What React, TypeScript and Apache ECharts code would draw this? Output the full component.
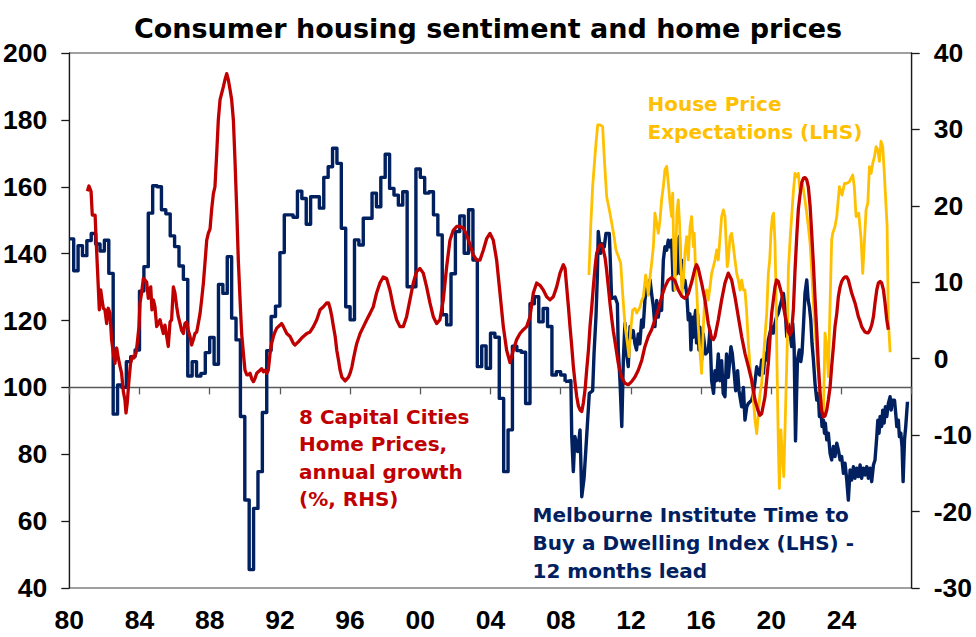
import React, { useEffect, useRef } from 'react'
import * as echarts from 'echarts'

const chartTitle = 'Consumer housing sentiment and home prices'

// Melbourne Institute time to buy a dwelling index (LHS), 12 months lead
// quarterly readings from 1980 Q1 to 2008 Q2
const mitbFirstYear = 1980
const mitbQuarterly = [
  144.4, 134.9, 142.4, 139.4, // 1980
  143.9, 146.0, 142.9, 140.8,
  144.0, 134.1, 92.0, 100.7,
  100.0, 107.7, 109.2, 111.2,
  128.8, 136.1, 152.1, 160.3, // 1984
  160.0, 153.1, 151.9, 145.3,
  142.1, 136.3, 132.3, 103.4,
  107.7, 103.4, 104.2, 110.4,
  114.9, 106.9, 130.8, 128.1, // 1988
  139.1, 120.7, 114.2, 91.3,
  66.3, 45.5, 63.8, 74.8,
  92.5, 111.0, 121.2, 124.3,
  140.3, 151.6, 151.6, 150.9, // 1992
  158.7, 156.5, 148.8, 157.0,
  157.0, 153.6, 162.8, 166.0,
  171.5, 167.0, 147.6, 124.1,
  120.2, 144.1, 142.6, 150.6, // 1996
  150.6, 158.1, 154.0, 162.8,
  169.7, 159.5, 157.5, 154.5,
  158.5, 130.1, 130.1, 165.3,
  162.8, 158.1, 158.5, 151.6, // 2000
  145.6, 121.7, 118.7, 134.0,
  146.6, 151.3, 140.1, 153.1,
  138.1, 106.2, 112.4, 105.7,
  116.2, 115.0, 96.7, 74.8, // 2004
  87.3, 112.3, 111.0, 110.5,
  95.2, 125.0, 127.1, 119.6,
  123.6, 118.2, 103.7, 104.7,
  103.7, 101.7, // 2008
]

// monthly readings afterwards: [year, index]
const mitbMonthly: [number, number][] = [
  [2008.25, 101.7], [2008.58, 102.0], [2008.63, 85.3], [2008.72, 74.8], [2008.81, 85.3], [2008.97, 80.8],
  [2009.1, 87.3], [2009.2, 67.3], [2009.33, 72.8], [2009.44, 82.0], [2009.63, 98.2], [2009.82, 99.0],
  [2009.9, 110.2], [2010.01, 121.2], [2010.09, 133.6], [2010.14, 146.6], [2010.28, 140.1], [2010.34, 143.0],
  [2010.48, 142.0], [2010.58, 146.0], [2010.77, 146.0], [2010.85, 134.4], [2010.9, 126.6], [2011.1, 127.0],
  [2011.23, 125.0], [2011.28, 111.2], [2011.38, 101.7], [2011.48, 88.3], [2011.57, 108.2], [2011.66, 119.2],
  [2011.76, 110.0], [2011.85, 106.2], [2011.95, 118.2], [2012.04, 115.0], [2012.13, 117.0], [2012.23, 113.0],
  [2012.32, 111.2], [2012.42, 116.0], [2012.51, 113.0], [2012.61, 120.2], [2012.7, 118.0], [2012.8, 126.1],
  [2012.9, 130.1], [2012.99, 128.0], [2013.09, 132.1], [2013.18, 128.0], [2013.28, 124.1], [2013.37, 118.2],
  [2013.47, 126.0], [2013.56, 121.0], [2013.66, 125.0], [2013.75, 123.0], [2013.85, 138.1], [2013.94, 142.1],
  [2014.04, 141.0], [2014.13, 144.0], [2014.23, 142.0], [2014.32, 144.0], [2014.42, 129.1], [2014.51, 144.0],
  [2014.55, 137.0], [2014.61, 134.0], [2014.7, 144.1], [2014.76, 145.1], [2014.81, 134.0], [2014.89, 138.0],
  [2014.99, 130.0], [2015.08, 132.0], [2015.18, 128.1], [2015.27, 120.2], [2015.36, 122.0], [2015.42, 111.2],
  [2015.5, 121.0], [2015.55, 115.0], [2015.61, 120.0], [2015.69, 123.0], [2015.74, 113.3], [2015.8, 122.0],
  [2015.88, 111.2], [2015.93, 118.0], [2016.03, 108.2], [2016.12, 116.0], [2016.26, 110.0], [2016.41, 111.0],
  [2016.5, 117.0], [2016.6, 102.0], [2016.71, 98.2], [2016.79, 105.0], [2016.88, 102.0], [2016.98, 110.0],
  [2017.07, 102.0], [2017.17, 108.0], [2017.26, 98.2], [2017.36, 97.2], [2017.45, 110.0], [2017.55, 103.0],
  [2017.7, 112.2], [2017.78, 110.0], [2017.89, 104.0], [2017.97, 99.0], [2018.08, 105.0], [2018.16, 99.0],
  [2018.31, 94.2], [2018.41, 100.0], [2018.5, 90.2], [2018.6, 94.2], [2018.69, 95.2], [2018.88, 96.2],
  [2018.98, 98.2], [2019.07, 101.7], [2019.17, 106.2], [2019.26, 104.2], [2019.35, 103.7], [2019.45, 108.2],
  [2019.55, 104.2], [2019.64, 110.2], [2019.74, 108.2], [2019.83, 114.2], [2019.92, 116.2], [2020.02, 118.2],
  [2020.11, 116.2], [2020.21, 119.2], [2020.3, 121.1], [2020.4, 122.2], [2020.49, 124.1], [2020.59, 126.1],
  [2020.69, 128.1], [2020.79, 123.0], [2020.88, 115.2], [2020.97, 119.0], [2021.07, 116.2], [2021.16, 112.2],
  [2021.22, 119.2], [2021.3, 112.2], [2021.38, 84.0], [2021.45, 100.0], [2021.49, 108.2], [2021.6, 111.2],
  [2021.68, 107.7], [2021.75, 110.2], [2021.83, 118.2], [2021.92, 128.1], [2022.02, 132.1], [2022.1, 126.1],
  [2022.17, 124.1], [2022.25, 120.2], [2022.32, 113.2], [2022.4, 108.2], [2022.49, 101.2], [2022.59, 96.2],
  [2022.68, 98.2], [2022.74, 91.3], [2022.82, 94.2], [2022.89, 88.3], [2022.97, 90.2], [2023.03, 86.3],
  [2023.08, 89.3], [2023.16, 84.3], [2023.25, 86.3], [2023.35, 80.3], [2023.44, 78.3], [2023.54, 82.3],
  [2023.63, 79.3], [2023.73, 83.3], [2023.82, 81.3], [2023.92, 78.3], [2024.01, 79.3], [2024.11, 74.3],
  [2024.2, 77.3], [2024.3, 72.3], [2024.39, 66.3], [2024.49, 75.3], [2024.58, 72.3], [2024.68, 76.3],
  [2024.77, 72.8], [2024.87, 75.8], [2024.96, 73.3], [2025.06, 76.8], [2025.15, 72.8], [2025.25, 75.8],
  [2025.34, 73.8], [2025.44, 76.3], [2025.53, 72.8], [2025.63, 75.8], [2025.72, 71.8], [2025.82, 76.8],
  [2025.91, 78.3], [2026.01, 85.3], [2026.07, 90.2], [2026.14, 86.3], [2026.2, 91.3], [2026.29, 88.3],
  [2026.35, 93.2], [2026.43, 89.3], [2026.5, 94.2], [2026.58, 91.3], [2026.67, 95.2], [2026.77, 97.2],
  [2026.83, 93.2], [2026.9, 96.2], [2027.02, 96.2], [2027.09, 92.2], [2027.15, 88.3], [2027.24, 90.2],
  [2027.3, 85.3], [2027.38, 86.3], [2027.45, 82.3], [2027.51, 71.8], [2027.59, 84.3], [2027.66, 88.3],
  [2027.76, 95.7],
]

// House price expectations (LHS): [year, index]
const priceExpectations: [number, number][] = [
  [2009.61, 133.6], [2009.71, 148.1], [2009.82, 160.0], [2009.92, 167.0], [2010.01, 173.0], [2010.11, 178.5],
  [2010.24, 178.5], [2010.39, 178.0], [2010.49, 168.0], [2010.62, 157.0], [2010.77, 153.1], [2010.91, 149.1],
  [2011.04, 145.1], [2011.15, 141.1], [2011.29, 139.1], [2011.42, 137.1], [2011.53, 128.0], [2011.67, 118.2],
  [2011.8, 113.2], [2011.89, 109.2], [2011.99, 117.2], [2012.1, 123.1], [2012.24, 123.6], [2012.33, 122.2],
  [2012.43, 123.1], [2012.52, 124.1], [2012.62, 126.1], [2012.71, 127.1], [2012.84, 133.6], [2012.92, 131.0],
  [2012.99, 127.5], [2013.09, 133.0], [2013.18, 137.0], [2013.28, 142.1], [2013.37, 152.1], [2013.47, 149.1],
  [2013.56, 146.1], [2013.66, 150.1], [2013.75, 156.1], [2013.85, 160.1], [2013.94, 165.1], [2014.04, 166.1],
  [2014.13, 161.1], [2014.23, 155.1], [2014.32, 151.1], [2014.38, 158.1], [2014.43, 144.1], [2014.51, 129.1],
  [2014.57, 142.1], [2014.62, 152.1], [2014.7, 156.1], [2014.78, 148.1], [2014.83, 138.1], [2014.91, 128.1],
  [2014.99, 132.1], [2015.08, 140.1], [2015.18, 145.1], [2015.27, 138.1], [2015.37, 148.1], [2015.46, 151.1],
  [2015.56, 142.1], [2015.61, 146.1], [2015.69, 134.1], [2015.76, 128.1], [2015.84, 118.2], [2015.94, 110.2],
  [2016.03, 104.2], [2016.13, 118.2], [2016.22, 128.1], [2016.32, 129.1], [2016.41, 126.1], [2016.51, 130.1],
  [2016.6, 134.1], [2016.7, 136.1], [2016.79, 138.1], [2016.89, 141.1], [2016.98, 138.1], [2017.08, 145.1],
  [2017.17, 151.1], [2017.27, 153.1], [2017.36, 151.1], [2017.42, 144.1], [2017.49, 136.1], [2017.55, 138.1],
  [2017.65, 145.1], [2017.74, 146.1], [2017.84, 142.1], [2017.93, 138.1], [2018.03, 134.1], [2018.12, 132.1],
  [2018.22, 129.1], [2018.31, 132.1], [2018.41, 129.1], [2018.5, 129.1], [2018.6, 122.2], [2018.69, 113.2],
  [2018.79, 106.2], [2018.88, 102.2], [2018.98, 96.2], [2019.07, 90.2], [2019.17, 86.2], [2019.26, 92.2],
  [2019.36, 98.2], [2019.45, 101.2], [2019.55, 108.2], [2019.64, 115.2], [2019.74, 122.2], [2019.83, 134.1],
  [2019.91, 138.1], [2019.98, 146.1], [2020.06, 151.1], [2020.13, 152.1], [2020.21, 143.1], [2020.27, 128.1],
  [2020.32, 108.2], [2020.4, 83.2], [2020.46, 69.8], [2020.55, 87.3], [2020.62, 80.0], [2020.71, 73.3],
  [2020.84, 99.2], [2020.93, 117.2], [2020.97, 135.0], [2021.07, 144.1], [2021.25, 158.0], [2021.35, 164.0],
  [2021.45, 163.0], [2021.54, 164.0], [2021.63, 159.0], [2021.78, 161.0], [2021.92, 156.0], [2022.02, 152.0],
  [2022.11, 148.1], [2022.21, 143.1], [2022.3, 135.2], [2022.39, 126.1], [2022.49, 118.2], [2022.59, 110.2],
  [2022.68, 104.2], [2022.78, 98.2], [2022.87, 94.2], [2022.97, 92.2], [2023.06, 116.2], [2023.16, 112.2],
  [2023.25, 103.2], [2023.34, 123.1], [2023.44, 144.1], [2023.5, 146.1], [2023.63, 148.1], [2023.73, 151.1],
  [2023.88, 160.0], [2024.03, 157.5], [2024.17, 161.0], [2024.3, 161.0], [2024.45, 161.5], [2024.64, 163.5],
  [2024.73, 160.0], [2024.83, 151.1], [2024.98, 152.1], [2025.12, 144.1], [2025.21, 134.1], [2025.3, 143.1],
  [2025.4, 153.1], [2025.5, 155.1], [2025.59, 166.0], [2025.69, 164.0], [2025.78, 167.0], [2025.88, 169.0],
  [2025.97, 172.0], [2026.07, 171.0], [2026.16, 167.6], [2026.25, 173.6], [2026.35, 172.0], [2026.44, 164.0],
  [2026.54, 154.0], [2026.6, 148.0], [2026.67, 120.0], [2026.77, 110.5],
]

// 8 capital cities home prices, annual growth % (RHS): [year, %]
const homePriceGrowth: [number, number][] = [
  [1981.03, 21.9], [1981.12, 22.6], [1981.24, 21.9], [1981.31, 18.8], [1981.47, 18.8], [1981.52, 16.0],
  [1981.6, 12.0], [1981.71, 6.4], [1981.79, 9.0], [1981.88, 7.5], [1981.94, 6.6], [1982.03, 6.4],
  [1982.13, 4.6], [1982.22, 6.6], [1982.32, 5.9], [1982.41, 2.5], [1982.51, 0.7], [1982.6, -0.6],
  [1982.7, 1.4], [1982.79, 0.1], [1982.89, -1.0], [1982.98, -1.9], [1983.08, -4.3], [1983.17, -5.4],
  [1983.23, -7.1], [1983.3, -5.8], [1983.4, -2.8], [1983.49, -0.6], [1983.59, 0.3], [1983.68, 0.1],
  [1983.8, 0.7], [1983.87, 2.0], [1983.97, 4.2], [1984.03, 7.3], [1984.12, 8.6], [1984.22, 10.5],
  [1984.31, 10.3], [1984.41, 10.0], [1984.5, 7.9], [1984.56, 9.0], [1984.64, 9.4], [1984.71, 6.4],
  [1984.79, 7.7], [1984.88, 6.8], [1984.98, 4.2], [1985.07, 4.6], [1985.17, 5.1], [1985.26, 4.2],
  [1985.36, 3.3], [1985.45, 4.4], [1985.55, 2.9], [1985.64, 1.6], [1985.74, 4.8], [1985.83, 5.1],
  [1985.93, 9.4], [1986.02, 8.6], [1986.12, 6.8], [1986.21, 5.5], [1986.31, 4.6], [1986.4, 3.7],
  [1986.5, 3.3], [1986.59, 4.6], [1986.69, 4.8], [1986.78, 3.7], [1986.88, 2.9], [1986.97, 1.8],
  [1987.07, 2.5], [1987.16, 3.3], [1987.26, 3.5], [1987.35, 4.6], [1987.45, 5.9], [1987.54, 7.7],
  [1987.64, 9.9], [1987.73, 12.5], [1987.83, 15.5], [1987.92, 16.4], [1988.02, 17.0], [1988.11, 19.5],
  [1988.21, 21.6], [1988.3, 22.5], [1988.4, 26.9], [1988.49, 31.2], [1988.59, 33.9], [1988.68, 34.7],
  [1988.78, 35.6], [1988.87, 36.5], [1988.97, 37.3], [1989.06, 36.5], [1989.16, 35.2], [1989.25, 33.9],
  [1989.35, 31.2], [1989.44, 26.0], [1989.54, 19.5], [1989.63, 12.9], [1989.73, 7.7], [1989.82, 3.3],
  [1989.92, 0.7], [1990.01, -1.5], [1990.11, -2.1], [1990.2, -2.1], [1990.3, -1.9], [1990.39, -2.6],
  [1990.49, -3.0], [1990.58, -2.6], [1990.68, -1.9], [1990.77, -1.7], [1990.87, -1.5], [1990.96, -1.3],
  [1991.06, -1.7], [1991.15, -1.5], [1991.25, -1.9], [1991.34, -1.5], [1991.44, 0.7], [1991.53, 2.0],
  [1991.63, 2.9], [1991.72, 3.5], [1991.82, 4.0], [1992.01, 4.4], [1992.1, 4.6], [1992.2, 4.2],
  [1992.39, 3.3], [1992.58, 2.9], [1992.77, 2.0], [1992.86, 1.8], [1993.05, 2.2], [1993.24, 2.7],
  [1993.53, 3.3], [1993.72, 3.5], [1993.91, 4.2], [1994.1, 5.1], [1994.29, 6.4], [1994.48, 6.8],
  [1994.67, 7.3], [1994.77, 7.3], [1994.86, 6.6], [1994.96, 5.5], [1995.05, 4.2], [1995.15, 2.9],
  [1995.24, 1.1], [1995.34, -0.2], [1995.43, -1.5], [1995.53, -2.4], [1995.72, -2.9], [1995.91, -2.4],
  [1996.0, -1.9], [1996.1, -1.1], [1996.19, 0.0], [1996.29, 1.1], [1996.38, 2.0], [1996.57, 3.3],
  [1996.76, 4.2], [1996.95, 5.1], [1997.13, 5.9], [1997.32, 6.8], [1997.51, 8.6], [1997.7, 9.9],
  [1997.89, 10.7], [1998.08, 10.5], [1998.27, 9.0], [1998.46, 6.8], [1998.65, 5.1], [1998.84, 4.2],
  [1999.03, 4.2], [1999.22, 5.5], [1999.41, 7.7], [1999.6, 9.9], [1999.79, 11.4], [1999.98, 11.8],
  [2000.17, 11.2], [2000.36, 9.4], [2000.55, 7.3], [2000.74, 5.5], [2000.93, 4.6], [2001.12, 5.1],
  [2001.31, 7.7], [2001.5, 12.0], [2001.69, 15.5], [2001.88, 16.8], [2002.07, 17.3], [2002.26, 17.3],
  [2002.45, 17.1], [2002.64, 16.2], [2002.83, 14.9], [2003.02, 13.6], [2003.21, 12.9], [2003.4, 12.9],
  [2003.59, 14.2], [2003.78, 15.7], [2003.97, 16.4], [2004.16, 15.5], [2004.35, 12.9], [2004.54, 8.6],
  [2004.73, 4.2], [2004.92, 1.1], [2005.11, -0.5], [2005.3, 1.1], [2005.49, 2.5], [2005.68, 3.3],
  [2005.87, 3.8], [2006.06, 4.2], [2006.25, 5.5], [2006.44, 8.6], [2006.63, 9.9], [2006.82, 9.6],
  [2007.01, 9.0], [2007.2, 8.1], [2007.39, 7.7], [2007.58, 8.1], [2007.77, 9.4], [2007.96, 11.2],
  [2008.15, 12.3], [2008.25, 11.8], [2008.34, 9.4], [2008.44, 6.8], [2008.53, 4.2], [2008.63, 1.6],
  [2008.72, -1.0], [2008.82, -3.2], [2008.91, -4.9], [2009.01, -6.2], [2009.1, -6.7], [2009.2, -6.9],
  [2009.29, -5.8], [2009.39, -4.0], [2009.48, -1.5], [2009.58, 1.1], [2009.67, 4.2], [2009.77, 6.8],
  [2009.86, 9.4], [2009.96, 12.0], [2010.05, 13.8], [2010.15, 14.5], [2010.24, 14.9], [2010.34, 14.9],
  [2010.43, 14.2], [2010.53, 13.2], [2010.62, 11.5], [2010.71, 9.5], [2010.81, 7.2], [2010.91, 5.2],
  [2011.0, 3.6], [2011.09, 2.3], [2011.28, -0.6], [2011.47, -2.4], [2011.66, -3.2], [2011.85, -3.4],
  [2012.04, -3.0], [2012.23, -2.4], [2012.42, -1.5], [2012.62, -0.2], [2012.8, 1.6], [2012.99, 2.9],
  [2013.18, 3.8], [2013.37, 5.1], [2013.56, 6.4], [2013.75, 8.1], [2013.94, 9.4], [2014.13, 10.3],
  [2014.32, 10.6], [2014.51, 10.2], [2014.7, 9.0], [2014.89, 8.2], [2015.08, 7.9], [2015.27, 8.5],
  [2015.46, 10.0], [2015.65, 11.8], [2015.74, 12.3], [2015.84, 11.8], [2016.03, 9.9], [2016.22, 7.7],
  [2016.41, 4.6], [2016.6, 2.7], [2016.7, 2.5], [2016.79, 2.9], [2016.98, 5.1], [2017.17, 7.7],
  [2017.36, 9.9], [2017.55, 11.2], [2017.74, 10.3], [2017.93, 8.1], [2018.12, 5.5], [2018.31, 2.9],
  [2018.5, 0.7], [2018.69, -1.0], [2018.88, -2.8], [2019.07, -5.4], [2019.26, -6.9], [2019.35, -7.4],
  [2019.45, -7.2], [2019.64, -5.0], [2019.83, -0.6], [2020.02, 5.9], [2020.21, 9.4], [2020.3, 10.3],
  [2020.4, 10.1], [2020.59, 8.5], [2020.69, 6.8], [2020.88, 4.6], [2020.97, 3.5], [2021.07, 3.1],
  [2021.16, 3.6], [2021.26, 6.5], [2021.35, 11.5], [2021.45, 16.0], [2021.54, 19.5], [2021.64, 21.5],
  [2021.73, 23.0], [2021.83, 23.6], [2021.92, 23.7], [2022.02, 23.4], [2022.11, 22.5], [2022.21, 20.0],
  [2022.3, 16.5], [2022.4, 12.3], [2022.49, 8.0], [2022.59, 3.6], [2022.68, -0.8], [2022.78, -4.5],
  [2022.87, -6.8], [2022.97, -7.6], [2023.06, -7.5], [2023.16, -6.7], [2023.25, -5.4], [2023.35, -3.7],
  [2023.44, -1.0], [2023.54, 1.6], [2023.63, 4.2], [2023.73, 5.9], [2023.82, 8.1], [2023.92, 9.4],
  [2024.01, 10.1], [2024.11, 10.5], [2024.2, 10.7], [2024.3, 10.7], [2024.39, 10.3], [2024.49, 9.4],
  [2024.58, 8.6], [2024.68, 7.9], [2024.77, 7.3], [2024.87, 6.4], [2024.96, 5.5], [2025.06, 4.9],
  [2025.15, 4.2], [2025.25, 3.8], [2025.34, 3.5], [2025.44, 3.4], [2025.53, 3.4], [2025.63, 3.8],
  [2025.72, 4.4], [2025.82, 5.5], [2025.91, 7.3], [2026.01, 9.0], [2026.1, 9.9], [2026.2, 10.1],
  [2026.29, 9.9], [2026.39, 9.0], [2026.48, 7.3], [2026.58, 5.1], [2026.67, 3.8],
]

// axes
const yearRange = [1980, 2028]
const yearStep = 4
const lhsRange = [40, 200]
const lhsStep = 20
const rhsRange = [-30, 40]
const rhsStep = 10
const lhsBaseline = 100

const NAVY = '#002060'
const RED = '#C00000'
const GOLD = '#FFC000'

const labelFont = {
  fontFamily: 'Liberation Sans, Arial, sans-serif',
  fontWeight: 'bold' as const,
  fontSize: 26.5,
  color: '#000',
}
const noteFont = { fontFamily: 'DejaVu Sans', fontWeight: 'bold' as const, fontSize: 20 }

function yearLabel(v: number) {
  if (v >= yearRange[1]) return ''
  return String(v % 100).padStart(2, '0')
}

function App() {
  const chartRef = useRef<HTMLDivElement>(null)

  useEffect(() => {
    const chart = echarts.init(chartRef.current as HTMLDivElement, undefined, { renderer: 'svg' })

    // hidden helper axis whose zero sits at the LHS baseline, for the x axis line
    const span = lhsRange[1] - lhsRange[0]
    const helperMin = lhsRange[0] - lhsBaseline

    chart.setOption({
      animation: false,
      grid: {
        left: 69.3,
        right: 64.3,
        top: 53,
        bottom: 49,
        show: true,
        borderColor: '#404040',
        borderWidth: 1,
        backgroundColor: 'transparent',
        containLabel: false,
        outerBoundsMode: 'none',
      },
      xAxis: {
        type: 'value',
        min: yearRange[0],
        max: yearRange[1],
        interval: yearStep,
        position: 'bottom',
        axisLine: { show: true, onZero: true, onZeroAxisIndex: 2, lineStyle: { color: '#595959', width: 1.3 } },
        axisTick: { show: true, length: 7, lineStyle: { color: '#595959', width: 1.3 } },
        axisLabel: { ...labelFont, margin: 18, formatter: yearLabel, showMinLabel: true },
        splitLine: { show: false },
      },
      yAxis: [
        {
          type: 'value',
          position: 'left',
          min: lhsRange[0],
          max: lhsRange[1],
          interval: lhsStep,
          axisLine: { show: true, lineStyle: { color: '#1a1a1a', width: 1.3 } },
          axisTick: { show: true, length: 8, lineStyle: { color: '#1a1a1a', width: 1.3 } },
          axisLabel: { ...labelFont, margin: 22, showMinLabel: true, showMaxLabel: true },
          splitLine: { show: false },
        },
        {
          type: 'value',
          position: 'right',
          min: rhsRange[0],
          max: rhsRange[1],
          interval: rhsStep,
          axisLine: { show: true, lineStyle: { color: '#1a1a1a', width: 1.3 } },
          axisTick: { show: true, length: 8, lineStyle: { color: '#1a1a1a', width: 1.3 } },
          axisLabel: { ...labelFont, margin: 22, showMinLabel: true, showMaxLabel: true },
          splitLine: { show: false },
        },
        {
          type: 'value',
          show: false,
          min: helperMin,
          max: helperMin + span,
        },
      ],
      series: [
        {
          name: 'Melbourne Institute Time to Buy a Dwelling Index',
          type: 'line',
          yAxisIndex: 0,
          step: 'end',
          showSymbol: false,
          lineStyle: { color: NAVY, width: 3.4, join: 'round' },
          data: mitbQuarterly.map((v, i) => [mitbFirstYear + i * 0.25, v]),
        },
        {
          name: 'Melbourne Institute Time to Buy a Dwelling Index (monthly)',
          type: 'line',
          yAxisIndex: 0,
          showSymbol: false,
          lineStyle: { color: NAVY, width: 3.4, join: 'round' },
          data: mitbMonthly,
        },
        {
          name: 'House Price Expectations',
          type: 'line',
          yAxisIndex: 0,
          showSymbol: false,
          lineStyle: { color: GOLD, width: 2.8, join: 'round' },
          data: priceExpectations,
        },
        {
          name: '8 Capital Cities Home Prices',
          type: 'line',
          yAxisIndex: 1,
          showSymbol: false,
          lineStyle: { color: RED, width: 3.3, join: 'round' },
          data: homePriceGrowth,
        },
      ],
      graphic: [
        {
          type: 'text',
          x: 488,
          y: 28.5,
          style: {
            text: chartTitle,
            fill: '#000',
            fontFamily: 'DejaVu Sans',
            fontWeight: 'bold',
            fontSize: 27,
            align: 'center',
            verticalAlign: 'middle',
          },
        },
        {
          type: 'text',
          x: 647.5,
          y: 90,
          style: { text: 'House Price\nExpectations (LHS)', fill: GOLD, ...noteFont, lineHeight: 28, verticalAlign: 'top' },
        },
        {
          type: 'text',
          x: 299,
          y: 403,
          style: {
            text: '8 Capital Cities\nHome Prices,\nannual growth\n(%, RHS)',
            fill: RED,
            ...noteFont,
            lineHeight: 27.5,
            verticalAlign: 'top',
          },
        },
        {
          type: 'text',
          x: 532.5,
          y: 501,
          style: {
            text: 'Melbourne Institute Time to\nBuy a Dwelling Index (LHS) -\n12 months lead',
            fill: NAVY,
            ...noteFont,
            lineHeight: 28,
            verticalAlign: 'top',
          },
        },
      ],
    })

    return () => {
      chart.dispose()
    }
  }, [])

  return <div ref={chartRef} style={{ position: 'absolute', left: 0, top: 0, width: 976, height: 637 }} />
}

export default App
